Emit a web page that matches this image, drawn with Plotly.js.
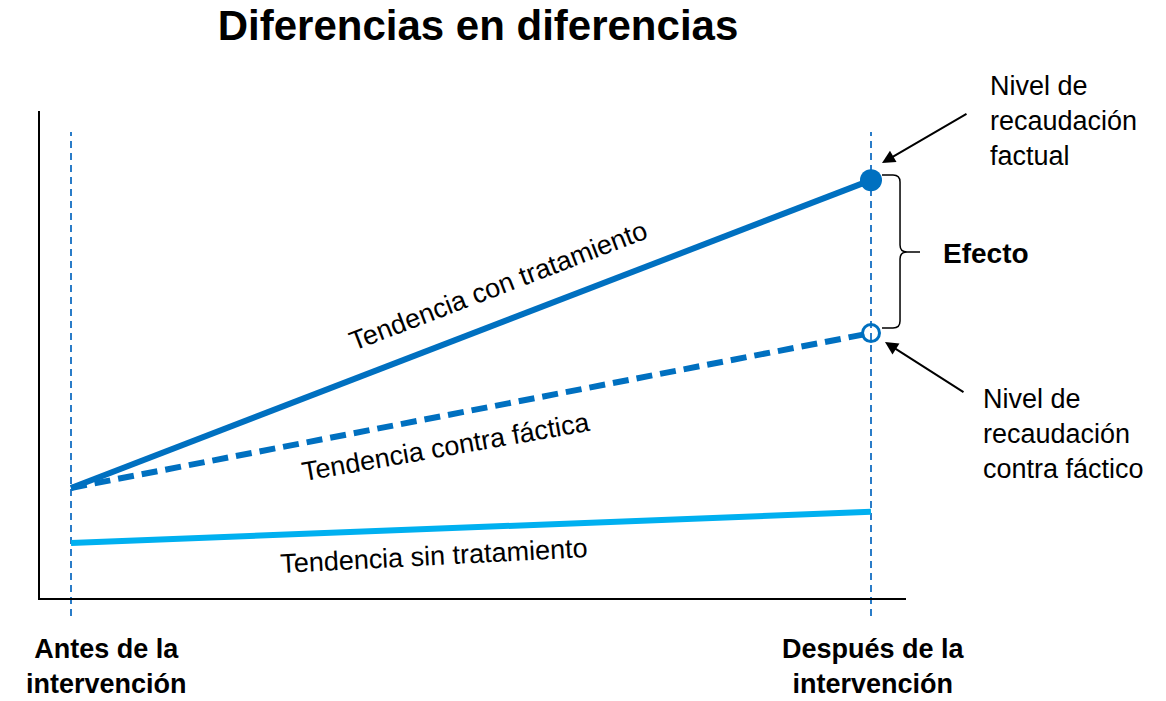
<!DOCTYPE html>
<html>
<head>
<meta charset="utf-8">
<script src="https://cdn.plot.ly/plotly-3.0.1.min.js"></script>
<style>
  html, body { margin: 0; padding: 0; background: #fff; }
  #chart { width: 1166px; height: 701px; }
</style>
</head>
<body>
<div id="chart"></div>
<script>
// periods: 0 = antes, 1 = después de la intervención
const periods = [0, 1];
const periodLabels = ['Antes de la<br>intervención', 'Después de la<br>intervención'];
const conTratamiento = [22.6, 85.8];
const contraFactica = [22.6, 54.4];
const sinTratamiento = [11.3, 17.7];

const font = 'Liberation Sans, Arial, sans-serif';
const dark = '#0070c0';
const light = '#00b0f0';

// paper helpers for things outside the plot area (plot area 40..906 x 111..598 px)
const px = (x) => (x - 40) / 866;
const py = (y) => (598 - y) / 487;
const p = (x, y) => `${px(x).toFixed(4)} ${py(y).toFixed(4)}`;
const brace = [
  `M ${p(882, 175)}`,
  `L ${p(893, 175)}`,
  `Q ${p(900, 175)} ${p(900, 182)}`,
  `L ${p(900, 245)}`,
  `Q ${p(900, 252)} ${p(907, 252)}`,
  `L ${p(920, 252)}`,
  `M ${p(907, 252)}`,
  `Q ${p(900, 252)} ${p(900, 259)}`,
  `L ${p(900, 321)}`,
  `Q ${p(900, 328)} ${p(893, 328)}`,
  `L ${p(882, 328)}`,
].join(' ');

const traces = [
  {
    type: 'scatter', mode: 'lines', x: periods, y: sinTratamiento,
    line: { color: light, width: 6 }, hoverinfo: 'skip',
  },
  {
    type: 'scatter', mode: 'lines', x: periods, y: contraFactica,
    line: { color: dark, width: 6, dash: '16px,8px' }, hoverinfo: 'skip',
  },
  {
    type: 'scatter', mode: 'lines', x: periods, y: conTratamiento,
    line: { color: dark, width: 6 }, hoverinfo: 'skip',
  },
  {
    type: 'scatter', mode: 'markers', x: [periods[1]], y: [conTratamiento[1]],
    marker: { color: dark, size: 22 }, hoverinfo: 'skip',
  },
  {
    type: 'scatter', mode: 'markers', x: [periods[1]], y: [contraFactica[1]],
    marker: { color: 'rgba(255,255,255,0)', size: 17, line: { color: dark, width: 3 } }, hoverinfo: 'skip',
  },
];

const vline = (x) => ({
  type: 'line', xref: 'x', yref: 'paper', x0: x, x1: x, y0: -0.037, y1: 0.957,
  line: { color: '#2a7cc8', width: 2, dash: '7px,5px' }, layer: 'below',
});

const txt = (text, x, y, extra) => ({
  text, x, y, xref: 'x', yref: 'y', showarrow: false,
  font: { family: font, size: 27, color: '#000' }, ...extra,
});

const ptxt = (text, x, y, size, extra) => ({
  text, x: px(x), y: py(y), xref: 'paper', yref: 'paper', showarrow: false,
  xanchor: 'center', yanchor: 'middle',
  font: { family: font, size, color: '#000' }, ...extra,
});

const arrow = (x, y, ax, ay) => ({
  x, y, ax, ay, xref: 'x', yref: 'y', text: '', showarrow: true,
  arrowhead: 2, arrowsize: 1.3, arrowwidth: 2, arrowcolor: '#000', standoff: 0,
});

const layout = {
  width: 1166,
  height: 701,
  margin: { l: 40, r: 260, t: 111, b: 103 },
  paper_bgcolor: '#fff',
  plot_bgcolor: '#fff',
  showlegend: false,
  title: {
    text: 'Diferencias en diferencias',
    font: { family: font, size: 42, weight: 700, color: '#000' },
    x: 478 / 1166, xanchor: 'center', y: 1 - 25 / 701, yanchor: 'middle',
  },
  xaxis: {
    range: [-0.03875, 1.04375], showline: true, linecolor: '#000', linewidth: 2,
    showgrid: false, zeroline: false, showticklabels: false, ticks: '',
  },
  yaxis: {
    range: [0, 100], showline: true, linecolor: '#000', linewidth: 2,
    showgrid: false, zeroline: false, showticklabels: false, ticks: '',
  },
  shapes: [
    vline(periods[0]),
    vline(periods[1]),
    { type: 'path', xref: 'paper', yref: 'paper', path: brace, line: { color: '#000', width: 1.5 } },
  ],
  annotations: [
    txt('Tendencia con tratamiento', (498 - 71) / 800, (598 - 286) / 4.87, { textangle: -21 }),
    txt('Tendencia contra fáctica', (446 - 71) / 800, (598 - 447) / 4.87, { textangle: -10 }),
    txt('Tendencia sin tratamiento', (434 - 71) / 800, (598 - 556) / 4.87, { textangle: -3 }),
    ptxt('Nivel de<br>recaudación<br>factual', 988, 121, 27, { xanchor: 'left', align: 'left' }),
    ptxt('Nivel de<br>recaudación<br>contra fáctico', 981, 434, 27, { xanchor: 'left', align: 'left' }),
    ptxt('<b>Efecto</b>', 986, 254, 28),
    ptxt(`<b>${periodLabels[0]}</b>`, 106, 666, 27),
    ptxt(`<b>${periodLabels[1]}</b>`, 873, 666, 27),
    arrow((882 - 71) / 800, (598 - 163) / 4.87, 86, -50),
    arrow((885 - 71) / 800, (598 - 342) / 4.87, 80, 51),
  ],
};

Plotly.newPlot('chart', traces, layout, { staticPlot: true, displayModeBar: false });
</script>
</body>
</html>
